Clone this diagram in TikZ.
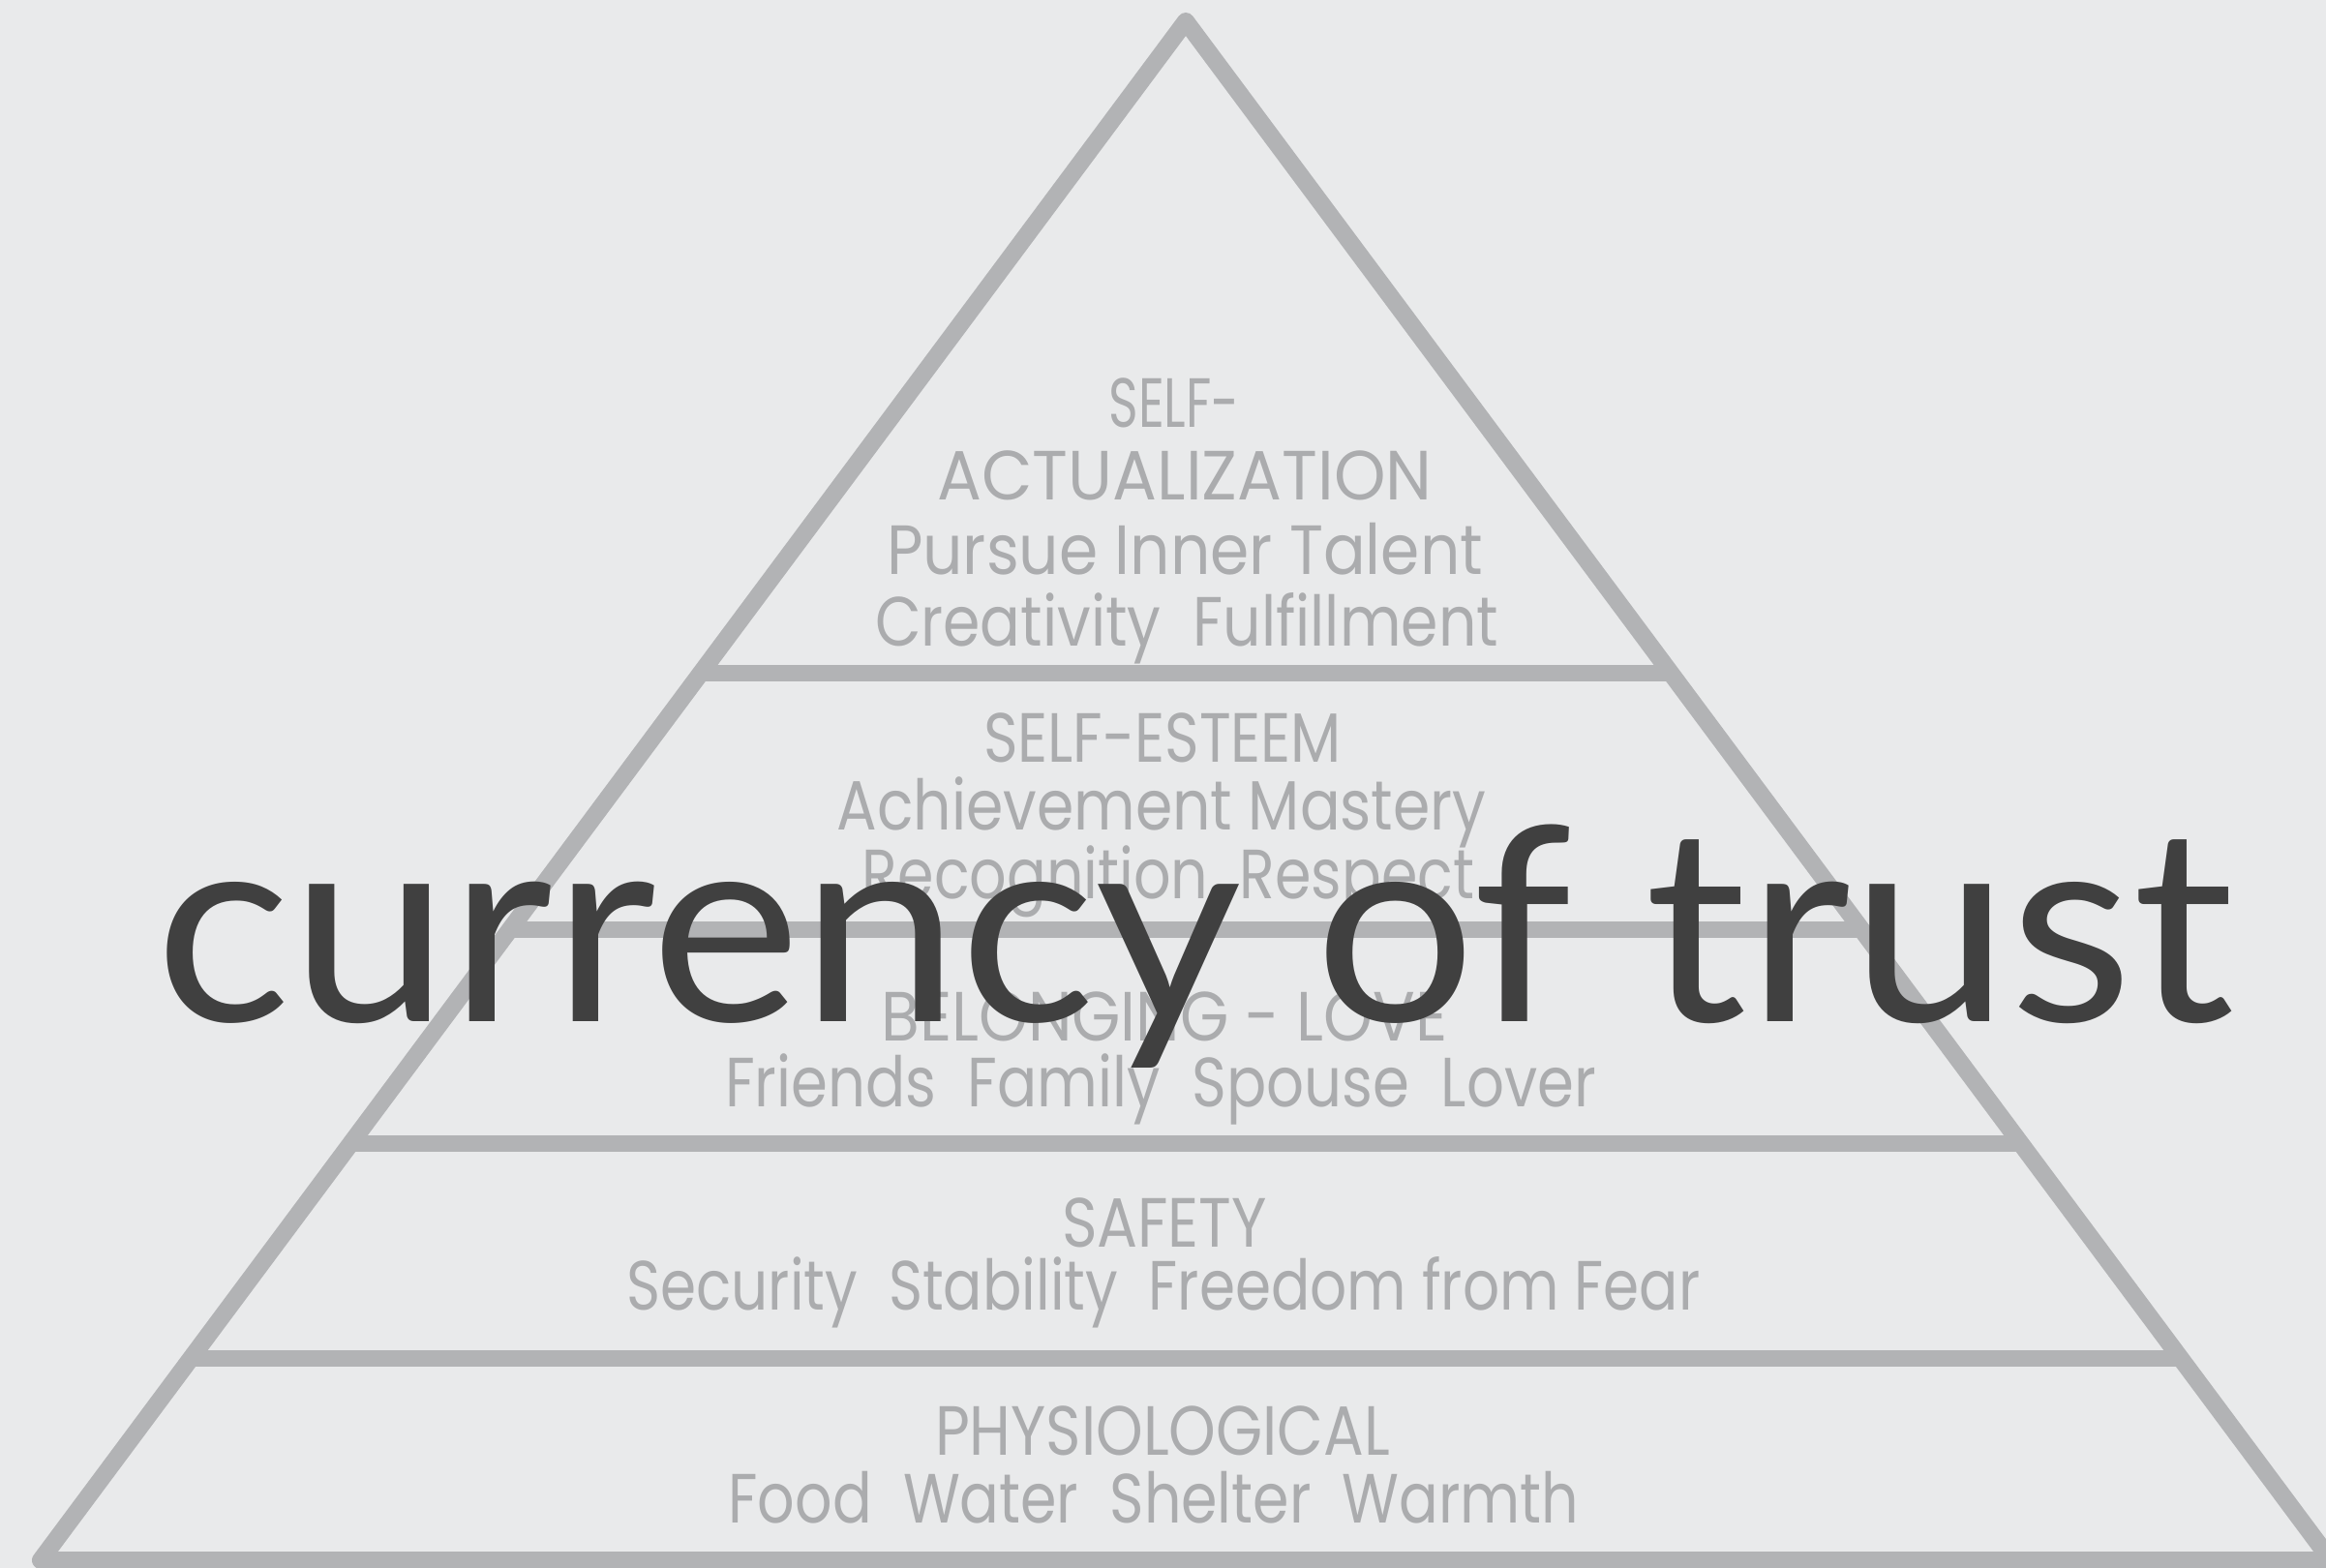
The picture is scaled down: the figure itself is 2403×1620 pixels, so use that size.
\documentclass[tikz,border=0pt]{standalone}
\usepackage{fontspec}
\usepackage{graphicx}
\setmainfont{Poppins}
\newfontfamily\trustfont{Lato}
\newlength\pxu \setlength\pxu{0.5pt}
\newcommand\fitw[2]{\resizebox{#1\pxu}{\height}{#2}}
\definecolor{bgcol}{HTML}{E9EAEB}
\definecolor{linecol}{HTML}{B2B3B5}
\definecolor{txtcol}{HTML}{ABACAE}
\definecolor{bigcol}{HTML}{404040}
\tikzset{
  lvltext/.style={anchor=base, inner sep=0pt, text=txtcol, font=\fontsize{36}{40}\selectfont},
  edgeline/.style={draw=linecol, line width=9pt, line join=round, line cap=round},
  divline/.style={draw=linecol, line width=8.5pt},
  bigtext/.style={anchor=base, inner sep=0pt, text=bigcol, font=\trustfont\fontsize{140}{150}\selectfont}
}
\begin{document}
\begin{tikzpicture}[x=0.5pt,y=-0.5pt]
\fill[bgcol] (0,0) rectangle (2403,1620);
\useasboundingbox (0,0) rectangle (2403,1620);
\coordinate (apex) at (1225,22);
\coordinate (bl) at (42,1612);
\coordinate (br) at (2408,1612);
\begin{scope}
  \clip (apex) -- (bl) -- (br) -- cycle;
  \coordinate (d1l) at (0,695);  \coordinate (d1r) at (2403,695);
  \coordinate (d2l) at (0,960);  \coordinate (d2r) at (2403,960);
  \coordinate (d3l) at (0,1181); \coordinate (d3r) at (2403,1181);
  \coordinate (d4l) at (0,1403); \coordinate (d4r) at (2403,1403);
  \draw[divline] (d1l) -- (d1r);
  \draw[divline] (d2l) -- (d2r);
  \draw[divline] (d3l) -- (d3r);
  \draw[divline] (d4l) -- (d4r);
\end{scope}
\draw[edgeline] (apex) -- (bl) -- (br) -- cycle;

% level 5
\node[lvltext] (sa1) at (1213,442) {\fitw{135}{SELF-}};
\node[lvltext] (sa2) at (1224,517) {\fitw{511}{ACTUALIZATION}};
\node[lvltext] (sa3) at (1224,593) {\fitw{616}{Pursue Inner Talent}};
\node[lvltext] (sa4) at (1226,667) {\fitw{644}{Creativity\ \ Fulfillment}};
% level 4
\node[lvltext] (se1) at (1201,787) {\fitw{370}{SELF-ESTEEM}};
\node[lvltext] (se2) at (1200,857) {\fitw{671}{Achievement Mastery}};
\node[lvltext] (se3) at (1207,928) {\fitw{632}{Recognition\ \ Respect}};
% level 3
\node[lvltext] (bl1) at (1203,1075) {\fitw{585}{BELONGING - LOVE}};
\node[lvltext] (bl2) at (1199,1143) {\fitw{900}{Friends\ \ Family\ \ Spouse\ \ Lover}};
% level 2
\node[lvltext] (sf1) at (1203,1288) {\fitw{212}{SAFETY}};
\node[lvltext] (sf2) at (1202,1353) {\fitw{1109}{Security\ \ Stability\ \ Freedom from Fear}};
% level 1
\node[lvltext] (ph1) at (1201,1503) {\fitw{470}{PHYSIOLOGICAL}};
\node[lvltext] (ph2) at (1192,1573) {\fitw{879}{Food\ \ Water\ \ Shelter\ \ Warmth}};

% overlay title
\node[bigtext] (title) at (1234,1055) {\fitw{2147}{currency of trust}};
\end{tikzpicture}
\end{document}
